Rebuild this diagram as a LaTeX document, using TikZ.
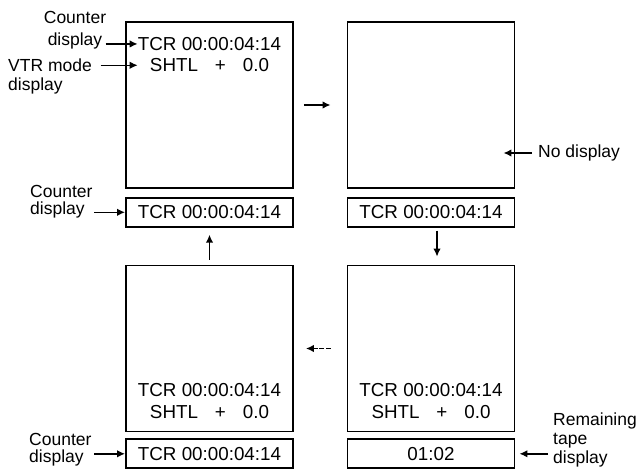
\documentclass[tikz,border=0pt]{standalone}
\usepackage{fontspec}
\setmainfont{Liberation Sans}
\usetikzlibrary{positioning,arrows.meta}

\begin{document}
\begin{tikzpicture}[
  x=1pt, y=-1pt,
  font=\fontsize{18.8}{21}\selectfont,
  screen/.style={rectangle, draw, line width=1.8pt, minimum width=167pt,
                 minimum height=166pt, inner sep=0pt},
  counter/.style={rectangle, draw, line width=1.8pt, minimum width=167pt,
                  minimum height=29pt, inner sep=0pt},
  readout/.style={inner sep=0pt},
  note/.style={font=\fontsize{17.5}{20}\selectfont, inner sep=0pt},
  arrow/.style={-{Latex[length=8pt,width=7.5pt]}, line width=1.5pt}
]
\useasboundingbox (0,0) rectangle (644,470);

% Monitor screens
\node[screen] (s1) at (209.5,105) {};
\node[screen] (s2) at (431,105) {};
\node[screen] (s3) at (209.5,348.5) {};
\node[screen] (s4) at (431,348.5) {};

% Counter boxes under the screens
\node[counter, below=8pt of s1] (c1) {TCR 00:00:04:14};
\node[counter, below=8pt of s2] (c2) {TCR 00:00:04:14};
\node[counter, below=6pt of s3] (c3) {TCR 00:00:04:14};
\node[counter, below=6pt of s4] (c4) {01:02};

% Readouts inside the screens
\node[readout, below=16pt of s1.north] (tcrA) {TCR 00:00:04:14};
\node[readout, below=7.6pt of tcrA] (shtlA) {SHTL\hspace{0.9em}+\hspace{0.9em}0.0};
\node[readout, above=14pt of s3.south] (shtlC) {SHTL\hspace{0.9em}+\hspace{0.9em}0.0};
\node[readout, above=7.6pt of shtlC] (tcrC) {TCR 00:00:04:14};
\node[readout, above=14pt of s4.south] (shtlD) {SHTL\hspace{0.9em}+\hspace{0.9em}0.0};
\node[readout, above=7.6pt of shtlD] (tcrD) {TCR 00:00:04:14};

% Sequence arrows
\draw[arrow, shorten <=10pt, shorten >=16pt] (s1) -- (s2);
\draw[arrow, shorten <=3pt, shorten >=8pt] ([xshift=6pt]c2.south) -- ([xshift=6pt]s4.north);
\draw[arrow, dash pattern=on 5pt off 1.5pt, shorten <=16pt, shorten >=12pt] (s4) -- (s3);
\draw[arrow, shorten <=5pt, shorten >=7pt] (s3) -- (c1);

% Callouts
\node[note, align=center] (lblA) at (75,30.5) {Counter\\[2pt]display};
\coordinate (pA) at ([xshift=-32pt]tcrA.west);
\draw[arrow] (pA) -- (tcrA.west);

\node[note, align=left, anchor=west] (lblB) at (8,76) {VTR mode\\[-1pt]display};
\coordinate (pB) at ([xshift=-37pt]tcrA.west |- shtlA);
\draw[arrow] (pB) -- (tcrA.west |- shtlA);

\node[note, align=left, anchor=west] (lblC) at (30,202) {Counter\\[-3pt]display};
\coordinate (pC) at ([xshift=-31pt]c1.west);
\draw[arrow] (pC) -- (c1.west);

\node[note, align=left, anchor=west] (lblD) at (29,450) {Counter\\[-3pt]display};
\coordinate (pD) at ([xshift=-31pt]c3.west);
\draw[arrow] (pD) -- (c3.west);

\node[note, anchor=west] (lblN) at (538,153) {No display};
\coordinate (pN) at ([xshift=-6pt]lblN.west);
\coordinate (qN) at ([xshift=-12pt]s2.east |- lblN);
\draw[arrow] (pN) -- (qN);

\node[note, align=left, anchor=west] (lblR) at (553,439.5) {Remaining\\[-1pt]tape\\[-1pt]display};
\coordinate (pR) at ([xshift=-5pt]lblR.west |- c4);
\draw[arrow, shorten >=4pt] (pR) -- (c4.east);

\end{tikzpicture}
\end{document}
